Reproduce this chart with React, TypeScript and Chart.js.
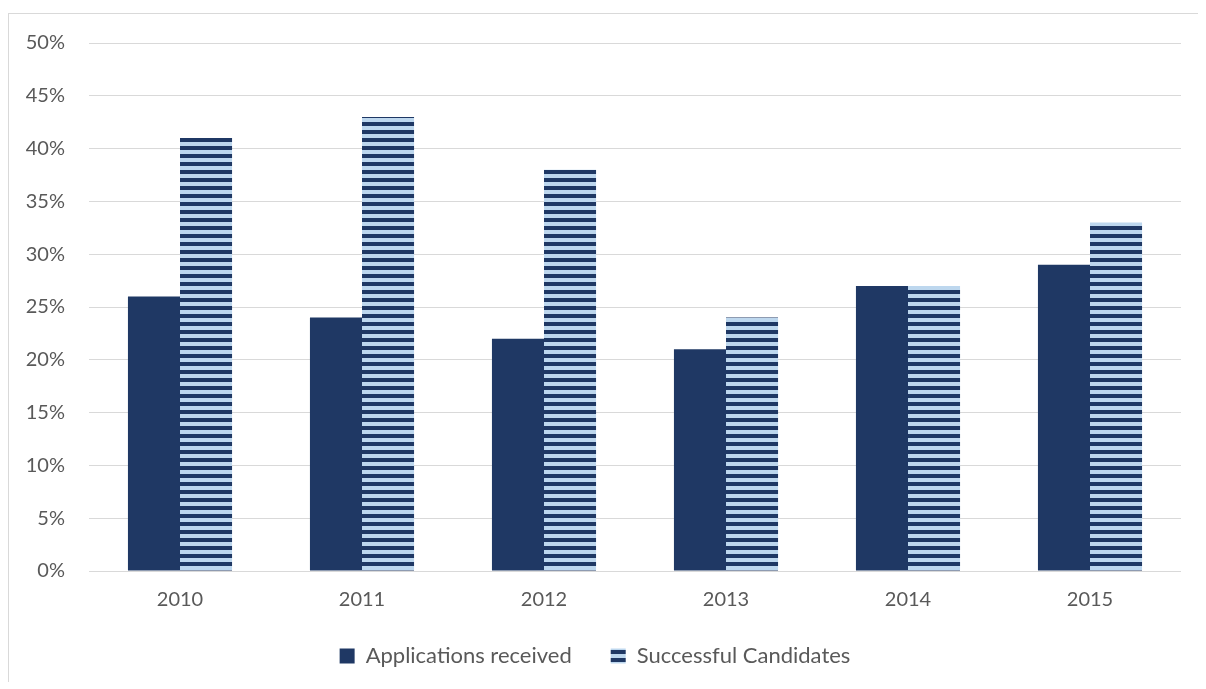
import React, { useEffect, useRef } from "react";
import { Chart, registerables } from "chart.js";

Chart.register(...registerables);

const categories = ["2010", "2011", "2012", "2013", "2014", "2015"];
const applicationsReceived = [26, 24, 22, 21, 27, 29];
const successfulCandidates = [41, 43, 38, 24, 27, 33];
const yTicksMax = 50;
const yTickStep = 5;

const DARK = "#1F3864";
const LIGHT = "#BDD7EE";
const TEXT = "#595959";
const GRID = "#D9D9D9";
const FONT = "Lato, 'Open Sans', sans-serif";

function makeStripes(): CanvasPattern | string {
  const c = document.createElement("canvas");
  c.width = 8;
  c.height = 8;
  const ctx = c.getContext("2d");
  if (!ctx) return DARK;
  ctx.fillStyle = LIGHT;
  ctx.fillRect(0, 0, 8, 8);
  ctx.fillStyle = DARK;
  ctx.fillRect(0, 4, 8, 4);
  const p = ctx.createPattern(c, "repeat");
  return p || DARK;
}

export default function App() {
  const ref = useRef<HTMLCanvasElement | null>(null);

  useEffect(() => {
    if (!ref.current) return;
    const stripes = makeStripes();
    const chart = new Chart(ref.current, {
      type: "bar",
      data: {
        labels: categories,
        datasets: [
          {
            label: "Applications received",
            data: applicationsReceived,
            backgroundColor: DARK,
            borderWidth: 0,
            barPercentage: 1,
            categoryPercentage: 0.572,
          },
          {
            label: "Successful Candidates",
            data: successfulCandidates,
            backgroundColor: stripes as any,
            borderWidth: 0,
            barPercentage: 1,
            categoryPercentage: 0.572,
          },
        ],
      },
      options: {
        responsive: false,
        animation: false,
        layout: { padding: { left: 0, right: 17, top: 29, bottom: 0 } },
        plugins: {
          tooltip: { enabled: false },
          legend: {
            position: "bottom",
            labels: {
              boxWidth: 15,
              boxHeight: 15,
              padding: 39,
              color: TEXT,
              font: { family: FONT, size: 22 },
            },
          },
        },
        scales: {
          x: {
            grid: { display: false, drawTicks: false },
            border: { display: false },
            ticks: { color: TEXT, font: { family: FONT, size: 20 }, padding: 17 },
            afterFit: (s: any) => {
              s.height = 35;
              s.paddingLeft = 0;
              s.paddingRight = 0;
            },
          },
          y: {
            min: 0,
            max: yTicksMax,
            grid: { color: GRID, lineWidth: 1, drawTicks: false },
            border: { display: false },
            ticks: {
              stepSize: yTickStep,
              color: TEXT,
              padding: 24,
              font: { family: FONT, size: 20 },
              callback: (v: any) => v + "%",
            },
            afterFit: (s: any) => {
              s.width = 80;
              s.paddingTop = 0;
              s.paddingBottom = 0;
            },
          },
        },
      },
    });
    return () => chart.destroy();
  }, []);

  return (
    <div
      style={{
        marginTop: 5,
        height: 668,
        borderLeft: "1px solid " + GRID,
        borderTop: "1px solid " + GRID,
        overflow: "hidden",
        position: "relative",
      }}
    >
      <canvas ref={ref} width={1189} height={663} style={{ display: "block" }} />
    </div>
  );
}
